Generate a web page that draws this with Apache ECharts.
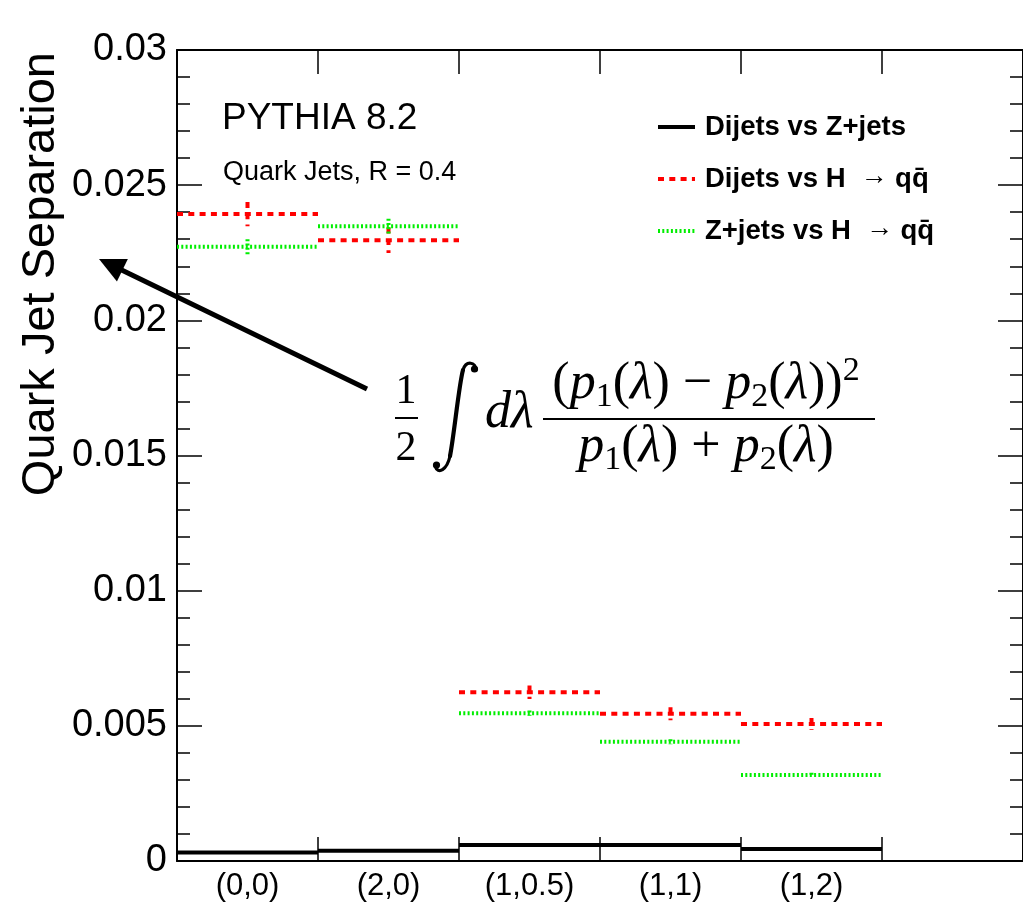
<!DOCTYPE html>
<html>
<head>
<meta charset="utf-8">
<script src="https://cdn.jsdelivr.net/npm/echarts@6/dist/echarts.min.js"></script>
<style>
  html, body { margin: 0; padding: 0; background: #fff; }
  #chart { width: 1023px; height: 904px; }
</style>
</head>
<body>
<div id="chart"></div>
<script>
// Bins of (beta, kappa) angularity parameters; the last bin is left empty.
const binLabels = ['(0,0)', '(2,0)', '(1,0.5)', '(1,1)', '(1,2)', ''];

// Quark jet separation per bin, with statistical uncertainties.
const dijetsVsZjets    = [0.00031, 0.00038, 0.00059, 0.00059, 0.00044];
const dijetsVsZjetsErr = [0.00002, 0.00002, 0.00002, 0.00002, 0.00002];
const dijetsVsHqq      = [0.02393, 0.02296, 0.00624, 0.00545, 0.00507];
const dijetsVsHqqErr   = [0.00045, 0.00047, 0.00025, 0.00024, 0.00022];
const zjetsVsHqq       = [0.02272, 0.02348, 0.00547, 0.00441, 0.00318];
const zjetsVsHqqErr    = [0.00028, 0.00028, 0.00010, 0.00009, 0.00008];

const legendNames = ['Dijets vs Z+jets', 'Dijets vs H', 'Z+jets vs H'];

const SANS = 'Liberation Sans';
const SERIF = 'Liberation Serif';

const chart = echarts.init(document.getElementById('chart'), null, { renderer: 'canvas' });

function toRows(values, errors) {
  return values.map((v, i) => [i, v, errors[i]]);
}

// Horizontal bin segment plus a vertical error bar at the bin centre.
function histRenderer(color, width, dash) {
  return function (params, api) {
    const i = api.value(0);
    const v = api.value(1);
    const e = api.value(2);
    const c = api.coord([i, v]);
    const w = api.size([1, 0])[0];
    const hi = api.coord([i, v + e]);
    const lo = api.coord([i, v - e]);
    const st = { stroke: color, lineWidth: width, lineDash: dash, fill: null };
    return {
      type: 'group',
      children: [
        { type: 'line', shape: { x1: c[0] - w / 2, y1: c[1], x2: c[0] + w / 2, y2: c[1] }, style: st },
        { type: 'line', shape: { x1: c[0], y1: hi[1], x2: c[0], y2: lo[1] }, style: st }
      ]
    };
  };
}

const styles = [
  { color: '#000000', width: 4, dash: null },
  { color: '#ff0000', width: 4, dash: [6, 5.3] },
  { color: '#00ee00', width: 4, dash: [2, 2.3] }
];

const seriesData = [
  toRows(dijetsVsZjets, dijetsVsZjetsErr),
  toRows(dijetsVsHqq, dijetsVsHqqErr),
  toRows(zjetsVsHqq, zjetsVsHqqErr)
];

const series = seriesData.map((rows, k) => ({
  type: 'custom',
  name: legendNames[k],
  xAxisIndex: 0,
  yAxisIndex: 0,
  data: rows,
  encode: { x: 0, y: 1 },
  renderItem: histRenderer(styles[k].color, styles[k].width, styles[k].dash),
  clip: false,
  z: 10 + k
}));

const axisLine = { show: true, onZero: false, lineStyle: { color: '#000', width: 2 } };
const tickLine = { color: '#000', width: 1.5 };

function xAxisCfg(pos, showLabel) {
  return {
    type: 'category',
    position: pos,
    data: binLabels,
    boundaryGap: true,
    axisLine: axisLine,
    axisTick: { show: true, inside: true, length: 24, interval: 0, lineStyle: tickLine },
    axisLabel: { show: showLabel, interval: 0, color: '#000', fontSize: 31, fontFamily: SANS, margin: 10 },
    splitLine: { show: false }
  };
}

function yAxisCfg(pos, showLabel) {
  return {
    type: 'value',
    position: pos,
    min: 0,
    max: 0.03,
    interval: 0.005,
    axisLine: axisLine,
    axisTick: { show: true, inside: true, length: 25, lineStyle: tickLine },
    minorTick: { show: true, splitNumber: 5, length: 13, lineStyle: tickLine },
    axisLabel: { show: showLabel, color: '#000', fontSize: 38, fontFamily: SANS, margin: 10 },
    splitLine: { show: false },
    minorSplitLine: { show: false }
  };
}

// Annotation arrow pointing at the axis title.
const arrowTail = [367, 389];
const arrowTip = [99, 259];
const headLen = 26, headHalf = 12.5;
const adx = arrowTip[0] - arrowTail[0], ady = arrowTip[1] - arrowTail[1];
const alen = Math.hypot(adx, ady);
const ux = adx / alen, uy = ady / alen;
const baseX = arrowTip[0] - ux * headLen, baseY = arrowTip[1] - uy * headLen;
const nx = -uy, ny = ux;

// Legend entries (line sample + label).
const legendY = [127, 179, 231];
const legendText = [
  '{b|' + legendNames[0] + '}',
  '{b|' + legendNames[1] + '}{a|  \u2192 }{b|q}{b|q\u0304}',
  '{b|' + legendNames[2] + '}{a|  \u2192 }{b|q}{b|q\u0304}'
];
const legendRich = {
  b: { fontFamily: SANS, fontWeight: 'bold', fontSize: 27.5, lineHeight: 32, fill: '#000' },
  a: { fontFamily: SANS, fontSize: 27, lineHeight: 24, verticalAlign: 'top', fill: '#000' }
};

const graphics = [];
legendY.forEach((y, k) => {
  graphics.push({
    type: 'line',
    shape: { x1: 658, y1: y, x2: 695, y2: y },
    style: { stroke: styles[k].color, lineWidth: styles[k].width, lineDash: styles[k].dash }
  });
  graphics.push({
    type: 'text',
    x: 705, y: y,
    style: { text: legendText[k], rich: legendRich, align: 'left', verticalAlign: 'middle' }
  });
});

// Axis title
graphics.push({
  type: 'text', x: 41, y: 52, rotation: Math.PI / 2,
  style: { text: 'Quark Jet Separation', fontFamily: SANS, fontSize: 47, fill: '#000', align: 'right', verticalAlign: 'middle' }
});

// Generator / jet labels
graphics.push({
  type: 'text', x: 222, y: 119,
  style: { text: 'PYTHIA 8.2', fontFamily: SANS, fontSize: 37, fill: '#000', align: 'left', verticalAlign: 'middle' }
});
graphics.push({
  type: 'text', x: 223, y: 173,
  style: { text: 'Quark Jets, R = 0.4', fontFamily: SANS, fontSize: 27, fill: '#000', align: 'left', verticalAlign: 'middle' }
});

// Arrow
graphics.push({
  type: 'line',
  shape: { x1: arrowTail[0], y1: arrowTail[1], x2: baseX + ux * 2, y2: baseY + uy * 2 },
  style: { stroke: '#000', lineWidth: 5 }
});
graphics.push({
  type: 'polygon',
  shape: { points: [arrowTip, [baseX + nx * headHalf, baseY + ny * headHalf], [baseX - nx * headHalf, baseY - ny * headHalf]] },
  style: { fill: '#000' }
});

// Separation formula: 1/2 ∫ dλ (p1(λ) − p2(λ))² / (p1(λ) + p2(λ))
const mathRich = {
  i: { fontFamily: SERIF, fontStyle: 'italic', fontSize: 52, lineHeight: 60, fill: '#000' },
  r: { fontFamily: SERIF, fontSize: 52, lineHeight: 60, fill: '#000' },
  s: { fontFamily: SERIF, fontSize: 34, lineHeight: 34, verticalAlign: 'bottom', fill: '#000' },
  u: { fontFamily: SERIF, fontSize: 34, lineHeight: 36, verticalAlign: 'top', fill: '#000' }
};
graphics.push({
  type: 'text', x: 406, y: 392,
  style: { text: '1', fontFamily: SERIF, fontSize: 42, fill: '#000', align: 'center', verticalAlign: 'middle' }
});
graphics.push({
  type: 'line', shape: { x1: 395, y1: 418, x2: 418, y2: 418 }, style: { stroke: '#000', lineWidth: 2 }
});
graphics.push({
  type: 'text', x: 406, y: 449,
  style: { text: '2', fontFamily: SERIF, fontSize: 42, fill: '#000', align: 'center', verticalAlign: 'middle' }
});
// Integral sign built from curves
const integralCurves = [
  { x1: 476, y1: 370, cpx1: 476, cpy1: 362, cpx2: 466, cpy2: 360, x2: 463, y2: 370 },
  { x1: 463, y1: 370, cpx1: 459, cpy1: 384, cpx2: 454, cpy2: 436, x2: 450, y2: 456 },
  { x1: 450, y1: 456, cpx1: 447, cpy1: 470, cpx2: 438, cpy2: 475, x2: 435, y2: 466 }
];
integralCurves.forEach((s, k) => {
  graphics.push({
    type: 'bezierCurve', shape: s,
    style: { stroke: '#000', lineWidth: k === 1 ? 4.2 : 3.2, fill: null, lineCap: 'round' }
  });
});
graphics.push({ type: 'circle', shape: { cx: 474.5, cy: 369, r: 3.6 }, style: { fill: '#000' } });
graphics.push({ type: 'circle', shape: { cx: 436.5, cy: 465, r: 3.6 }, style: { fill: '#000' } });
graphics.push({
  type: 'text', x: 485, y: 413,
  style: { text: '{i|d\u03bb}', rich: mathRich, align: 'left', verticalAlign: 'middle' }
});
graphics.push({
  type: 'text', x: 706, y: 384.5,
  style: {
    text: '{r|(}{i|p}{s|1}{r|(}{i|\u03bb}{r|) \u2212 }{i|p}{s|2}{r|(}{i|\u03bb}{r|))}{u|2}',
    rich: mathRich, align: 'center', verticalAlign: 'middle'
  }
});
graphics.push({
  type: 'line', shape: { x1: 543, y1: 419, x2: 875, y2: 419 }, style: { stroke: '#000', lineWidth: 2 }
});
graphics.push({
  type: 'text', x: 706, y: 447.5,
  style: {
    text: '{i|p}{s|1}{r|(}{i|\u03bb}{r|) + }{i|p}{s|2}{r|(}{i|\u03bb}{r|)}',
    rich: mathRich, align: 'center', verticalAlign: 'middle'
  }
});

chart.setOption({
  animation: false,
  backgroundColor: '#fff',
  grid: { left: 177, top: 50, width: 850, height: 811, containLabel: false },
  xAxis: [xAxisCfg('bottom', true), xAxisCfg('top', false)],
  yAxis: [yAxisCfg('left', true), yAxisCfg('right', false)],
  series: series,
  graphic: { elements: graphics }
});
</script>
</body>
</html>
